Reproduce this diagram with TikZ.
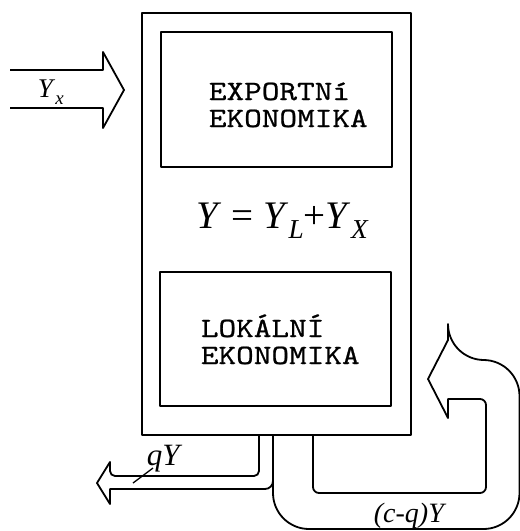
\documentclass[tikz,border=0pt]{standalone}
\usepackage{fontspec}
\setmainfont{Liberation Serif}
\setmonofont{lmmono10-regular.otf}[FakeStretch=1.2, FakeBold=0.8]
\usepackage{graphicx}
\newcommand{\lsub}[1]{\raisebox{-0.28em}{\scalebox{0.7}{\itshape #1}}}
\begin{document}
\begin{tikzpicture}[x=1pt,y=-1pt,
  line width=1.8pt, line join=round,
  box/.style={draw, line width=1.8pt, inner sep=0pt, outer sep=0pt, anchor=north west},
  mono/.style={font=\fontsize{28}{28}\selectfont\ttfamily, inner sep=0pt, anchor=base west},
  lbl/.style={inner sep=0pt, anchor=base west}]
\useasboundingbox (0,0) rectangle (520,531);

% boxes
\node[box, minimum width=269pt, minimum height=422pt] (outer) at (142,13) {};
\node[box, minimum width=231pt, minimum height=135pt] (exp) at (161,32) {};
\node[box, minimum width=231pt, minimum height=134pt] (loc) at (160,272) {};

% texts
\node[mono] (e1) at (208,100) {EXPORTNí};
\node[mono] (e2) at (208,127) {EKONOMIKA};
\node[mono] (l1) at (200,337) {LOKÁLNÍ};
\node[mono] (l2) at (200,364) {EKONOMIKA};
\node[lbl, font=\fontsize{39}{39}\selectfont] (eq) at (196,228) {\textit{Y} = \textit{Y}\lsub{L}+\textit{Y}\lsub{X}};
\node[lbl, font=\fontsize{27}{27}\selectfont] (yx) at (37,97) {\textit{Y}\lsub{x}};
\node[lbl, font=\fontsize{31}{31}\selectfont] (qy) at (146,465) {\textit{qY}};
\node[lbl, font=\fontsize{28}{28}\selectfont] (cq) at (373,522) {\textit{(c-q)Y}};

% connector anchor points on the bottom of the outer box
\coordinate (p1l) at (259,435);
\coordinate (p2l) at (273,435);
\coordinate (p2r) at (313,435);
\coordinate (yxs1) at (10,70);
\coordinate (yxs2) at (10,108);

% incoming export arrow
\draw (yxs1) -- (103,70) -- (103,52) -- (124,90) -- (103,128) -- (103,108) -- (yxs2);

% qY outgoing arrow
\draw[rounded corners=5pt] (p1l) -- (259,476) -- (110,476) [sharp corners] -- (110,462) -- (97,483) -- (110,504) -- (110,489) [rounded corners=8pt] -- (273,489) -- (273,470);
\draw[line width=1.3pt] (133,483) -- (153,468);

% (c-q)Y loop arrow
\draw[rounded corners=36pt] (p2l) -- (273,529) -- (519.5,529) -- (519.5,360) -- (448,360) [sharp corners] -- (448,340) -- (428,379) -- (448,418) -- (448,399) [rounded corners=6pt] -- (486,399) -- (486,493) -- (313,493) -- (p2r);
\end{tikzpicture}
\end{document}
